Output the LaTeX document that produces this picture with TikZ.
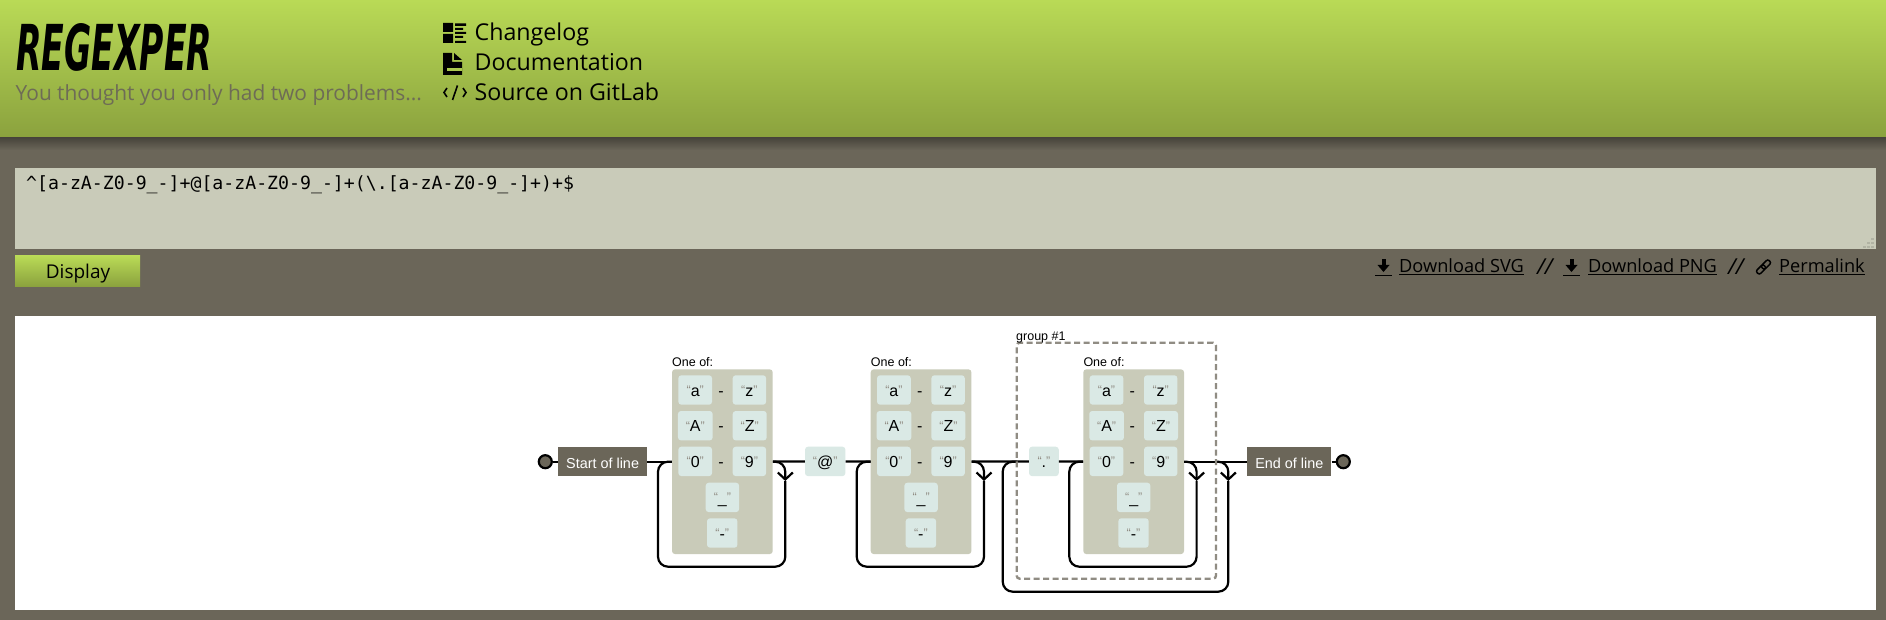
\documentclass[tikz,border=0pt]{standalone}
\usepackage{fontspec}
\usepackage{graphicx}
\usetikzlibrary{arrows.meta}
\setmainfont{Open Sans}
\newfontfamily\diagfont{Liberation Sans}
\newfontfamily\logofont{DejaVu Sans}
\setmonofont{DejaVu Sans Mono}
\definecolor{pagebg}{HTML}{6B6659}
\definecolor{panelbg}{HTML}{C9CBB9}
\definecolor{charbg}{HTML}{DAE9E5}
\definecolor{quotegray}{HTML}{908C83}
\definecolor{lime}{HTML}{B9DA56}
\definecolor{olive}{HTML}{8BA23E}
\newcommand{\fsz}[1]{\fontsize{#1}{#1}\selectfont}
\newcommand{\qlit}[1]{{\textcolor{quotegray}{\fsz{12.5}\raisebox{1.5pt}{“}}}{\fsz{16}#1}{\textcolor{quotegray}{\fsz{12.5}\raisebox{1.5pt}{”}}}}
\tikzset{
	wire/.style={line width=2.2pt,draw=black},
	tipwire/.style={wire,rounded corners=10pt,-{Straight Barb[length=7pt,width=15pt]}},
	loopwire/.style={wire,rounded corners=10pt},
	oneofbox/.style={fill=panelbg,rounded corners=3pt,minimum width=100.7pt,minimum height=184.7pt,inner sep=0pt},
	charbox/.style={fill=charbg,rounded corners=3pt,minimum height=29.4pt,inner sep=0pt,font=\diagfont\fsz{16},text height=12pt,text depth=0pt},
	dashmark/.style={minimum height=29.4pt,inner sep=0pt,font=\diagfont\fsz{16},text height=12pt,text depth=0pt},
	anchorbox/.style={fill=pagebg,minimum height=29.4pt,inner sep=0pt,text=white,font=\diagfont\fsz{14.4},text height=13pt,text depth=0pt},
	capt/.style={anchor=south west,inner sep=0pt,font=\diagfont\fsz{12.5}},
	dot/.style={circle,draw=black,line width=2.2pt,fill=pagebg,minimum size=13pt,inner sep=0pt},
	navlink/.style={anchor=west,inner sep=0pt,font=\fsz{23.2},text height=17pt,text depth=5pt},
	dllink/.style={anchor=west,inner sep=0pt,font=\fsz{18.2}},
	dlslash/.style={anchor=west,inner sep=0pt,font=\itshape\fsz{22}}
}
% one character class panel
\newcommand{\oneof}[2]{%
	\begin{scope}[shift={(#2,0)}]
		\node[oneofbox] (#1box) at (50.35,461.7) {};
		\node[capt] (#1cap) at (0,367) {One of:};
		\node[charbox,minimum width=33.7pt] (#1a) at (23.2,390) {\qlit{a}};
		\node[charbox,minimum width=33.4pt] (#1z) at (77.4,390) {\qlit{z}};
		\node[charbox,minimum width=34.7pt] (#1A) at (23.3,425.7) {\qlit{A}};
		\node[charbox,minimum width=34pt] (#1Z) at (77.7,425.7) {\qlit{Z}};
		\node[charbox,minimum width=33.7pt] (#1n) at (23.2,461.4) {\qlit{0}};
		\node[charbox,minimum width=33.4pt] (#1m) at (77.4,461.4) {\qlit{9}};
		\node[charbox,minimum width=33.4pt] (#1u) at (50.4,497.4) {\qlit{\_}};
		\node[charbox,minimum width=30.4pt] (#1h) at (50.2,533) {\qlit{-}};
		\foreach \rowy/\dname in {390/p,425.7/q,461.4/r}
			\node[dashmark] (#1\dname) at (49,\rowy) {-};
		\coordinate (#1tip) at (113.3,481);
		\coordinate (#1low) at (-14,566.7);
	\end{scope}
	\draw[tipwire] (#1box.east) -| (#1tip);
	\draw[loopwire] (#1tip) |- (#1low) |- (#1box.west);
}
\newcommand{\dlicon}[1]{%
	\fill (#1+6.5,259) rectangle (#1+10.5,266);
	\fill (#1+2.5,265) -- (#1+14.5,265) -- (#1+8.5,272) -- cycle;
	\fill (#1,274.5) rectangle (#1+17,276);
}
\begin{document}
\begin{tikzpicture}[x=1pt,y=-1pt]
	\useasboundingbox (0,0) rectangle (1886,620);
	\fill[pagebg] (0,0) rectangle (1886,620);
	% page header
	\shade[top color=black!35!pagebg,bottom color=pagebg] (0,137) rectangle (1886,150);
	\shade[top color=lime,bottom color=olive] (0,0) rectangle (1886,137);
	\node[anchor=north west,inner sep=0pt] (logo) at (16,23) {\resizebox{196pt}{47pt}{\logofont\bfseries\itshape REGEXPER}};
	\node[anchor=west,inner sep=0pt,font=\fsz{20.9},text=pagebg!90!olive] (tagline) at (15.5,95) {You thought you only had two problems...};
	\fill (443,23) rectangle (453,32) (443,34) rectangle (453,43);
	\fill (455,23.5) rectangle (466,26) (455,28) rectangle (463,30) (455,32) rectangle (466,34) (455,36) rectangle (463,38) (455,41) rectangle (466,43);
	\fill (443,53) -- (452,53) -- (452,62) -- (462,62) -- (462,75) -- (443,75) -- cycle;
	\fill[even odd rule,fill=black] (454,53) -- (462,60) -- (454,60) -- cycle;
	\fill[lime!70!olive] (447,68) rectangle (462,71);
	\draw[line width=1.6pt] (447,88) -- (444,92.5) -- (447,97) (463,88) -- (466,92.5) -- (463,97) (457.5,85.5) -- (452.5,100);
	\node[navlink] (changelog) at (474.5,35) {Changelog};
	\node[navlink] (docs) at (474.5,65) {Documentation};
	\node[navlink] (source) at (474.5,95) {Source on GitLab};
	% expression field and button
	\fill[panelbg] (15,168) rectangle (1875.5,249);
	\node[anchor=west,inner sep=0pt,font=\ttfamily\fsz{18.2}] (expr) at (26,185) {\detokenize{^[a-zA-Z0-9_-]+@[a-zA-Z0-9_-]+(\.[a-zA-Z0-9_-]+)+$}};
	\foreach \gripx/\gripy in {1871/238,1871/242,1871/246,1867/242,1867/246,1863/246}
		\fill[black!12!panelbg] (\gripx,\gripy) rectangle +(2.5,2.5);
	\shade[top color=lime,bottom color=olive] (15,256) rectangle (140,286);
	\node[inner sep=0pt,font=\fsz{19}] (display) at (78,274) {Display};
	% download links
	\dlicon{1375}
	\node[dllink] (dlsvg) at (1399,267) {\underline{Download SVG}};
	\node[dlslash] (slasha) at (1537,267) {//};
	\dlicon{1563}
	\node[dllink] (dlpng) at (1588,267) {\underline{Download PNG}};
	\node[dlslash] (slashb) at (1728,267) {//};
	\draw[line width=1.5pt,rounded corners=2pt,rotate around={45:(1763.5,267)}] (1755,264.5) rectangle (1765,269.5) (1762,264.5) rectangle (1772,269.5);
	\node[dllink] (perma) at (1779,267) {\underline{Permalink}};
	% diagram
	\fill[white] (15,316) rectangle (1875.5,610);
	\node[dot] (startdot) at (545.3,461.7) {};
	\node[anchorbox,minimum width=88.7pt] (startline) at (602.6,461.7) {Start of line};
	\oneof{one}{672}
	\node[charbox,minimum width=40.4pt] (atsign) at (825.2,461.4) {\qlit{@}};
	\oneof{two}{870.7}
	\coordinate (grpin) at (1016.7,461.7);
	\coordinate (grpout) at (1216,461.7);
	\node[charbox,minimum width=29.7pt] (dotlit) at (1043.9,461.4) {\qlit{.}};
	\oneof{three}{1083.3}
	\node[anchorbox,minimum width=84pt] (endline) at (1289.3,461.7) {End of line};
	\node[dot] (enddot) at (1343.3,461.7) {};
	\coordinate (grptip) at (1228.3,481);
	\coordinate (grplow) at (1002.7,591.7);
	\path[wire]
	(startdot) edge (startline)
	(startline) edge (onebox)
	(onebox) edge (atsign)
	(atsign) edge (twobox)
	(twobox) edge (dotlit)
	(dotlit) edge (threebox)
	(threebox) edge (endline)
	(endline) edge (enddot);
	\draw[tipwire] (grpout) -| (grptip);
	\draw[loopwire] (grptip) |- (grplow) |- (grpin);
	\node[draw=quotegray,line width=2.4pt,dash pattern=on 6pt off 3.5pt,rounded corners=3pt,minimum width=199.3pt,minimum height=236pt,inner sep=0pt] (group) at (1116.35,460.7) {};
	\node[capt] (groupcap) at (1016,343) {group \#1};
\end{tikzpicture}
\end{document}
